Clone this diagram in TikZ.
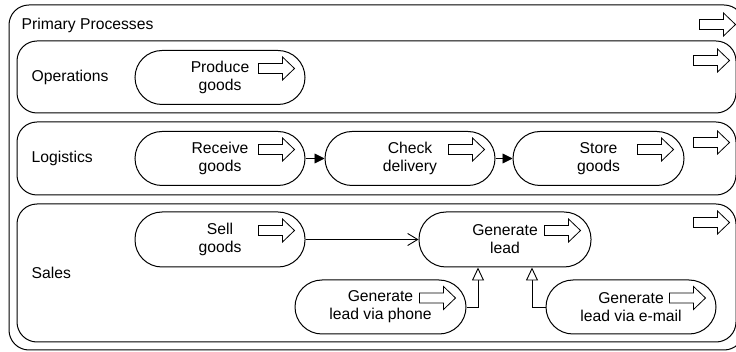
\documentclass[tikz,border=0pt]{standalone}
\usepackage{fontspec}
\setmainfont{Liberation Sans}
\usetikzlibrary{arrows.meta}
\begin{document}
\begin{tikzpicture}[x=1pt,y=-1pt,
  txt/.style={font=\fontsize{15.7}{18}\selectfont},
  pool/.style={draw, line width=1pt, rounded corners=20pt, inner sep=0pt},
  task/.style={draw, line width=1pt, rounded corners=27pt, minimum width=170pt,
    minimum height=54pt, inner sep=0pt, align=center, txt},
  lanelabel/.style={anchor=west, inner sep=0pt, txt},
  seqflow/.style={line width=0.9pt, -{Triangle[length=10pt,width=10pt]}},
  openflow/.style={line width=0.9pt, -{Straight Barb[length=10pt,width=12pt]}},
  specflow/.style={line width=0.9pt, -{Triangle[open,length=13pt,width=12pt,fill=white]}},
  flow/.pic={\draw[line width=0.8pt, fill=white]
    (-36,-5) -- (-12,-5) -- (-12,-11.5) -- (0,0) -- (-12,11.5) -- (-12,5) -- (-36,5) -- cycle;}
]
\clip (0,0) rectangle (736,352);

% pool and lanes
\node[pool, minimum width=735pt, minimum height=345pt] (outer) at (376.5,177.5) {};
\node[pool, minimum width=719pt, minimum height=72pt] (ops) at (376.5,77) {};
\node[pool, minimum width=719pt, minimum height=73pt] (log) at (376.5,158.5) {};
\node[pool, minimum width=719pt, minimum height=138pt] (sales) at (376.5,273) {};

\node[lanelabel] (title) at ([xshift=13pt,yshift=-21pt]outer.north west) {Primary Processes};
\node[lanelabel] (opslabel) at ([xshift=15pt]ops.west) {Operations};
\node[lanelabel] (loglabel) at ([xshift=15pt]log.west) {Logistics};
\node[lanelabel] (saleslabel) at ([xshift=15pt]sales.west) {Sales};

\pic at ([xshift=-9pt,yshift=-20pt]outer.north east) {flow};
\pic at ([xshift=-7pt,yshift=-20pt]ops.north east) {flow};
\pic at ([xshift=-7pt,yshift=-21pt]log.north east) {flow};
\pic at ([xshift=-7pt,yshift=-19pt]sales.north east) {flow};

% tasks
\node[task] (produce) at (220,77.5) {Produce\\goods};
\node[task] (receive) at (220,158.5) {Receive\\goods};
\node[task] (check) at (410,158.5) {Check\\delivery};
\node[task, minimum width=171pt] (store) at (598.5,158.5) {Store\\goods};
\node[task, minimum height=55pt] (sell) at (220,239.5) {Sell\\goods};
\node[task, minimum width=172pt, minimum height=55pt] (lead) at (505,239.5) {Generate\\lead};
\node[task, minimum width=171pt] (phone) at (380.5,307) {Generate\\lead via phone};
\node[task] (email) at (631,307) {Generate\\lead via e-mail};

\foreach \n in {produce,receive,check,store,sell,lead,phone,email}
  \pic at ([xshift=-11pt,yshift=9pt]\n.east) {flow};

% connectors
\draw[seqflow] (receive.east) -- (check.west);
\draw[seqflow] (check.east) -- (store.west);
\draw[openflow] (sell.east) -- (lead.west);
\draw[specflow] (phone.east) -| ([xshift=-27pt]lead.south);
\draw[specflow] (email.west) -| ([xshift=27pt]lead.south);
\end{tikzpicture}
\end{document}
